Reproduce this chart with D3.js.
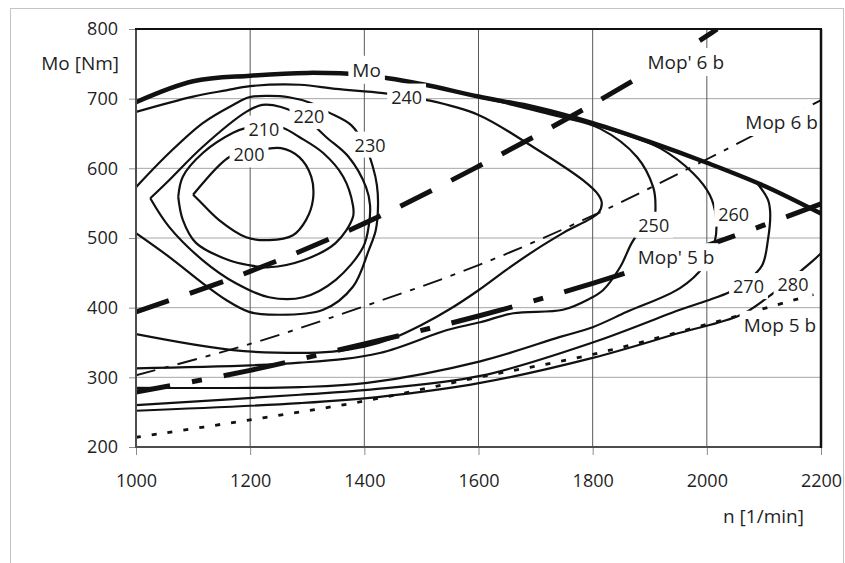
<!DOCTYPE html>
<html>
<head>
<meta charset="utf-8">
<script src="https://cdn.jsdelivr.net/npm/d3@7"></script>
<style>
body{margin:0;background:#fff;}
svg text{font-family:"Open Sans",sans-serif;fill:#1f1f1f;font-size:18px;}
</style>
</head>
<body>
<svg id="chart" width="845" height="563"></svg>
<script>
// ===============================
// DATA  (n [1/min], Mo [Nm])
// ===============================

const nTicks=[1000,1200,1400,1600,1800,2000,2200];
const moTicks=[200,300,400,500,600,700,800];

// full load torque curve
const moFullLoad=[[1000,695],[1100,725],[1200,733],[1300,737],[1400,734],[1500,721],[1600,703],[1700,687],[1800,665],[1900,638],[2000,608],[2100,575],[2200,535]];

// specific fuel consumption isolines [g/kWh]
const iso200=[[1100,562],[1163,616],[1198,623],[1254,629],[1286,616],[1307,588],[1310,555],[1298,526],[1275,504],[1233,497],[1193,501],[1145,526],[1109,555],[1100,562]];
const iso210=[[1074,559],[1082,588],[1117,622],[1170,651],[1193,658],[1226,662],[1258,658],[1286,645],[1328,622],[1363,588],[1380,547],[1380,530],[1350,493],[1293,468],[1233,458],[1198,461],[1163,468],[1105,493],[1082,526],[1074,559]];
const iso220=[[1025,557],[1058,583],[1117,631],[1193,681],[1221,691],[1254,688],[1296,672],[1333,645],[1373,616],[1403,573],[1410,547],[1408,519],[1398,487],[1350,440],[1293,415],[1233,415],[1175,435],[1117,468],[1058,516],[1025,557]];
const iso230=[[1000,573],[1058,622],[1117,665],[1170,691],[1198,702],[1233,704],[1268,702],[1305,694],[1336,681],[1377,662],[1401,633],[1415,602],[1422,576],[1424,547],[1420,511],[1408,483],[1380,430],[1328,397],[1233,390],[1198,394],[1158,411],[1117,435],[1058,473],[1000,507]];
const iso240=[[1000,681],[1100,703],[1158,712],[1200,718],[1287,720],[1350,714],[1433,708],[1510,698],[1599,677],[1695,631],[1783,583],[1810,562],[1816,550],[1810,536],[1750,508],[1700,483],[1650,455],[1600,425],[1550,398],[1500,375],[1450,356],[1400,344],[1345,337],[1287,335],[1170,339],[1000,362]];
const iso250=[[1580,706],[1650,693],[1743,674],[1813,657],[1878,616],[1906,573],[1910,547],[1906,522],[1874,500],[1848,458],[1818,425],[1795,413],[1748,397],[1661,392],[1603,379],[1545,368],[1427,335],[1287,321],[1000,313]];
const iso260=[[1813,660],[1870,645],[1918,629],[1976,593],[2005,562],[2016,530],[2014,495],[1995,460],[1953,428],[1860,394],[1800,372],[1743,358],[1603,323],[1405,292],[1287,286],[1000,285]];
const iso270=[[2088,579],[2107,555],[2111,536],[2107,497],[2097,461],[2070,438],[2041,423],[2000,410],[1953,397],[1800,350],[1603,302],[1405,282],[1287,275],[1000,260]];
const iso280=[[2200,478],[2184,466],[2107,415],[2058,389],[1953,364],[1800,328],[1603,292],[1427,272],[1287,263],[1000,252]];

// operating lines
const mopPrime6b=[[1000,394],[1200,452],[1400,521],[1600,603],[1800,692],[2000,790],[2018,800]];
const mop6b=[[1000,303],[1200,348],[1400,402],[1600,461],[1800,532],[2000,613],[2200,698]];
const mopPrime5b=[[1000,279],[1200,310],[1400,348],[1600,388],[1800,435],[2000,489],[2200,549]];
const mop5b=[[1000,214],[1200,239],[1400,266],[1600,300],[1800,333],[2000,376],[2200,422]];

// in-plot labels: text, n, Mo
const labels=[
    ["Mo",1404,741],["240",1474,702],["220",1303,674],["210",1224,656],
    ["200",1198,619],["230",1410,633],["Mop' 6 b",1963,752],["Mop 6 b",2131,666],
    ["250",1907,518],["260",2047,534],["Mop' 5 b",1946,472],["270",2073,430],
    ["280",2151,433],["Mop 5 b",2128,375]
];

// ===============================
// SETUP
// ===============================

const svg=d3.select("#chart");

const x=d3.scaleLinear().domain([1000,2200]).range([136,821]);
const y=d3.scaleLinear().domain([200,800]).range([447,29]);

svg.append("rect")
    .attr("x",10.5).attr("y",8.5)
    .attr("width",833).attr("height",600)
    .attr("fill","none").attr("stroke","#c4c4c4");

svg.append("clipPath").attr("id","plotClip")
    .append("rect")
    .attr("x",x(1000)).attr("y",y(800))
    .attr("width",x(2200)-x(1000)).attr("height",y(200)-y(800));

// ===============================
// GRID
// ===============================

svg.append("g").selectAll("line")
    .data(moTicks.slice(1,-1))
    .enter().append("line")
    .attr("x1",x(1000)).attr("x2",x(2200))
    .attr("y1",d=>y(d)).attr("y2",d=>y(d))
    .attr("stroke","#a6a6a6").attr("stroke-width",1);

svg.append("g").selectAll("line")
    .data(nTicks.slice(1,-1))
    .enter().append("line")
    .attr("x1",d=>x(d)).attr("x2",d=>x(d))
    .attr("y1",y(800)).attr("y2",y(200))
    .attr("stroke","#595959").attr("stroke-width",1);

// ===============================
// AXES
// ===============================

const yAxis=svg.append("g")
    .attr("transform",`translate(${x(1000)},0)`)
    .call(d3.axisLeft(y).tickValues(moTicks).tickSize(7).tickPadding(11));

const xAxis=svg.append("g")
    .attr("transform",`translate(0,${y(200)})`)
    .call(d3.axisBottom(x).tickValues(nTicks).tickSize(8).tickFormat(d3.format("d")).tickPadding(19));

[yAxis,xAxis].forEach(a=>{
    a.select(".domain").remove();
    a.selectAll(".tick line").attr("stroke","#8c8c8c");
    a.selectAll(".tick text").style("font-size","18px").attr("fill","#1f1f1f");
});

svg.append("text")
    .attr("x",119).attr("y",70)
    .attr("text-anchor","end")
    .style("font-size","19px")
    .text("Mo [Nm]");

svg.append("text")
    .attr("x",723).attr("y",523)
    .style("font-size","19px")
    .text("n [1/min]");

// ===============================
// LINES
// ===============================

const plot=svg.append("g").attr("clip-path","url(#plotClip)");

const line=d3.line()
    .x(d=>x(d[0]))
    .y(d=>y(d[1]))
    .curve(d3.curveCatmullRom.alpha(0.5));

function drawLine(data,width,dash,offset){

    plot.append("path")
        .datum(data)
        .attr("d",line)
        .attr("fill","none")
        .attr("stroke","#111")
        .attr("stroke-width",width)
        .attr("stroke-dasharray",dash||null)
        .attr("stroke-dashoffset",offset||0)
        .attr("stroke-linejoin","round");

}

[iso200,iso210,iso220,iso230,iso240,iso250,iso260,iso270,iso280]
    .forEach(iso=>drawLine(iso,2.2));

drawLine(mop5b,2.8,"5,11");
drawLine(mop6b,1.9,"20,9,5,9");
drawLine(mopPrime5b,5,"63,22,10,22",28);
drawLine(mopPrime6b,5,"35,22");
drawLine(moFullLoad,4.5);

// ===============================
// LABELS
// ===============================

labels.forEach(l=>{

    const g=svg.append("g");

    const t=g.append("text")
        .attr("x",x(l[1]))
        .attr("y",y(l[2]))
        .attr("dy","0.35em")
        .attr("text-anchor","middle")
        .style("font-size",/[a-z]/i.test(l[0]) ? "19px" : "18px")
        .text(l[0]);

    const b=t.node().getBBox();

    g.insert("rect","text")
        .attr("x",b.x-4).attr("y",b.y-1)
        .attr("width",b.width+8).attr("height",b.height+2)
        .attr("fill","#fff");

});

// ===============================
// PLOT BORDER
// ===============================

const border=svg.append("g");

border.append("line")
    .attr("x1",x(1000)).attr("x2",x(1000))
    .attr("y1",y(800)).attr("y2",y(200)+1)
    .attr("stroke","#4d4d4d").attr("stroke-width",2);

border.append("line")
    .attr("x1",x(1000)).attr("x2",x(2200))
    .attr("y1",y(200)).attr("y2",y(200))
    .attr("stroke","#4d4d4d").attr("stroke-width",2);

border.append("line")
    .attr("x1",x(1000)-1).attr("x2",x(2200)+1)
    .attr("y1",y(800)).attr("y2",y(800))
    .attr("stroke","#111").attr("stroke-width",2);

border.append("line")
    .attr("x1",x(2200)).attr("x2",x(2200))
    .attr("y1",y(800)).attr("y2",y(200)+1)
    .attr("stroke","#111").attr("stroke-width",2.5);

</script>
</body>
</html>
